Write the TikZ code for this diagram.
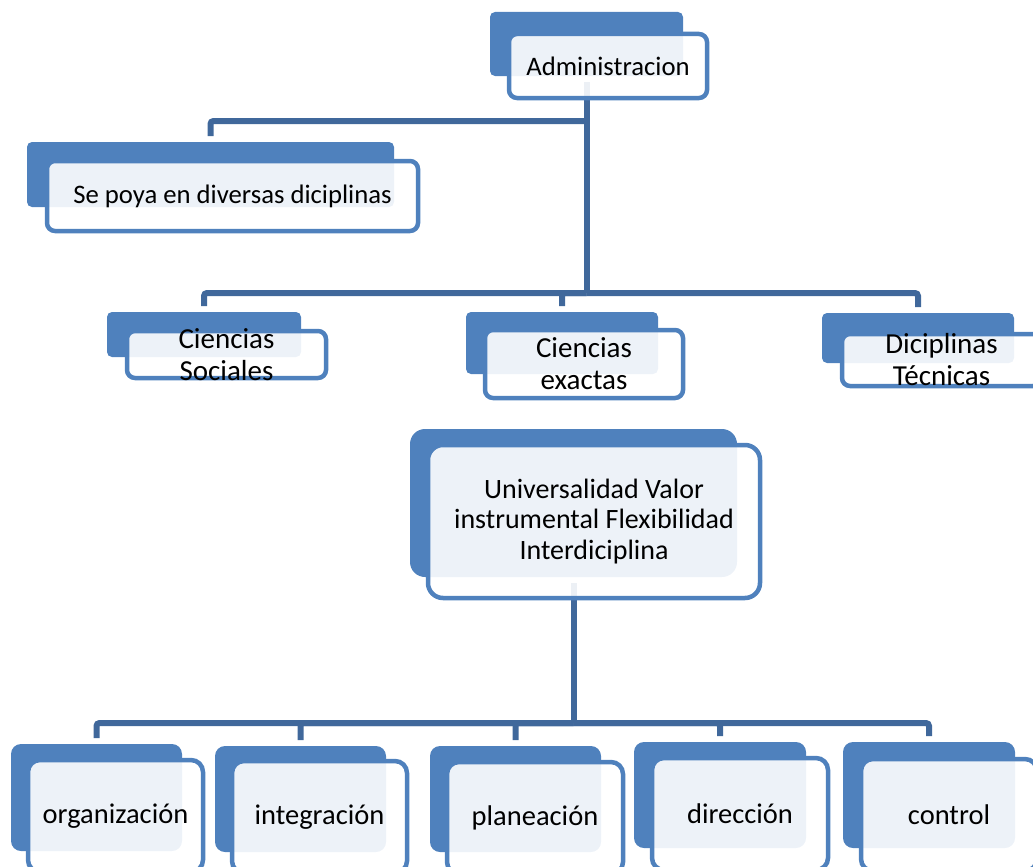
\documentclass[tikz,border=0pt]{standalone}
\usepackage{fontspec}
\setmainfont{Carlito}
\pgfdeclarelayer{bg}
\pgfsetlayers{bg,main}
\definecolor{boxblue}{RGB}{79,129,189}
\definecolor{linkblue}{RGB}{64,104,155}
\tikzset{
  backbox/.style={fill=boxblue, draw=none, rounded corners=5pt, inner sep=0pt, outer sep=0pt},
  frontbox/.style={fill=white, fill opacity=0.9, draw=boxblue, draw opacity=1,
    line width=4.5pt, rounded corners=8pt, inner sep=0pt, outer sep=0pt},
  every label/.style={text=black, text opacity=1, fill opacity=1, draw=none, fill=none,
    font=\fontsize{26.7}{32}\selectfont, align=center, inner sep=0pt},
  midtext/.style={font=\fontsize{29}{32}\selectfont},
  bigtext/.style={font=\fontsize{28}{30.5}\selectfont},
  lowtext/.style={font=\fontsize{28.5}{32}\selectfont},
  link/.style={draw=linkblue, line width=6pt, rounded corners=3pt},
}
\begin{document}
\begin{tikzpicture}[x=1pt, y=-1pt]
\useasboundingbox (0,0) rectangle (1033,867);
\clip (0,0) rectangle (1033,867);

% top node
\node[backbox, minimum width=193pt, minimum height=64pt] (adminB) at (586.5,44) {};
\node[frontbox, minimum width=198pt, minimum height=64pt, label=center:Administracion] (admin) at (608,66) {};

% side note
\node[backbox, minimum width=367pt, minimum height=65pt] (apoyoB) at (210.5,174.5) {};
\node[frontbox, minimum width=371pt, minimum height=70pt, label=center:Se poya en diversas diciplinas] (apoyo) at (232.5,196) {};

% second level
\node[backbox, minimum width=194pt, minimum height=45pt] (socB) at (204,334.5) {};
\node[frontbox, minimum width=199pt, minimum height=47pt, label={[midtext]center:Ciencias\\Sociales}] (soc) at (226.5,354.5) {};

\node[backbox, minimum width=192pt, minimum height=62pt] (exaB) at (562,343) {};
\node[frontbox, minimum width=198pt, minimum height=68pt, label={[midtext]center:Ciencias\\exactas}] (exa) at (584,364) {};

\node[backbox, minimum width=192pt, minimum height=50pt] (tecB) at (918,338) {};
\node[frontbox, minimum width=199pt, minimum height=52pt, label={[midtext]center:Diciplinas\\Técnicas}] (tec) at (941.5,360) {};

% central box
\node[backbox, rounded corners=15pt, minimum width=327pt, minimum height=148pt] (univB) at (573.5,503) {};
\node[frontbox, rounded corners=15pt, minimum width=332pt, minimum height=153pt,
  label={[bigtext]center:Universalidad Valor\\instrumental Flexibilidad\\Interdiciplina}] (univ) at (594,521.5) {};

% bottom row
\node[backbox, rounded corners=10pt, minimum width=171pt, minimum height=107pt] (orgB) at (96.5,797.5) {};
\node[frontbox, rounded corners=12pt, minimum width=175pt, minimum height=112pt, label={[lowtext]center:organización}] (org) at (115.5,816) {};

\node[backbox, rounded corners=10pt, minimum width=171pt, minimum height=106pt] (intB) at (300.5,799) {};
\node[frontbox, rounded corners=12pt, minimum width=175pt, minimum height=112pt, label={[lowtext]center:integración}] (integ) at (319.5,817) {};

\node[backbox, rounded corners=10pt, minimum width=171pt, minimum height=106pt] (planB) at (515.5,799) {};
\node[frontbox, rounded corners=12pt, minimum width=176pt, minimum height=112pt, label={[lowtext]center:planeación}] (plan) at (535,818) {};

\node[backbox, rounded corners=10pt, minimum width=172pt, minimum height=106pt] (dirB) at (720,795) {};
\node[frontbox, rounded corners=12pt, minimum width=176pt, minimum height=112pt, label={[lowtext]center:dirección}] (dir) at (740,814) {};

\node[backbox, rounded corners=10pt, minimum width=172pt, minimum height=106pt] (ctrlB) at (929,795) {};
\node[frontbox, rounded corners=12pt, minimum width=176pt, minimum height=112pt, label={[lowtext]center:control}] (ctrl) at (949,815) {};

% connectors, behind the boxes
\begin{pgfonlayer}{bg}
  \coordinate (j1) at (586.5,121);
  \coordinate (j2) at (586.5,293);
  \coordinate (j3) at (573.5,723);
  \draw[link] ([yshift=-6pt]adminB.south) -- (j2);
  \draw[link] (j1) -| ([yshift=6pt]apoyoB.north);
  \draw[link] (j2) -| ([yshift=6pt]socB.north);
  \draw[link] (j2) -| ([yshift=6pt]exaB.north);
  \draw[link] (j2) -| ([yshift=6pt]tecB.north);
  \draw[link] ([yshift=-6pt]univB.south) -- (j3);
  \draw[link] (j3) -| ([yshift=6pt]orgB.north);
  \draw[link] (j3) -| ([yshift=6pt]intB.north);
  \draw[link] (j3) -| ([yshift=6pt]planB.north);
  \draw[link] (j3) -| ([yshift=6pt]dirB.north);
  \draw[link] (j3) -| ([yshift=6pt]ctrlB.north);
\end{pgfonlayer}
\end{tikzpicture}
\end{document}
